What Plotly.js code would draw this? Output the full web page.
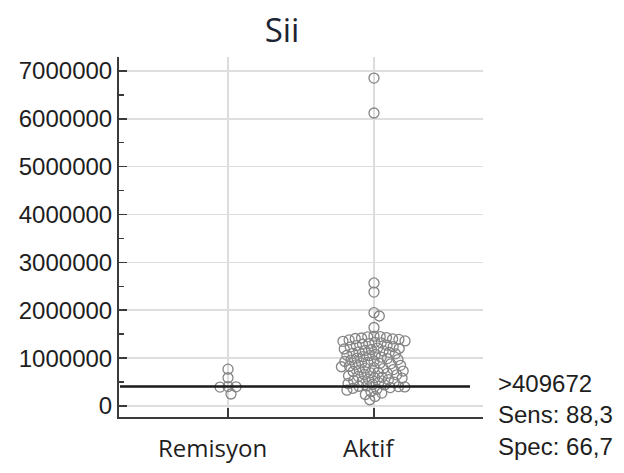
<!DOCTYPE html>
<html>
<head>
<meta charset="utf-8">
<script src="https://cdn.plot.ly/plotly-3.0.1.min.js"></script>
<style>html,body{margin:0;padding:0;background:#fff;}#chart{width:624px;height:473px;}</style>
</head>
<body>
<div id="chart"></div>
<script>
// ---- data ----
const titleText = 'Sii';
const categories = ['Remisyon', 'Aktif'];
const remisyonValues = [770000, 590000, 405000, 400000, 395000, 250000];
const aktifValues = [
  6850000, 6120000, 2570000, 2380000, 1950000, 1880000, 1640000,
  1460000, 1450000, 1445000, 1430000, 1420000, 1410000, 1400000,
  1390000, 1380000, 1360000, 1350000, 1330000, 1320000, 1300000,
  1290000, 1270000, 1260000, 1240000, 1230000, 1210000, 1200000,
  1190000, 1180000, 1160000, 1150000, 1130000, 1120000, 1100000,
  1090000, 1080000, 1060000, 1050000, 1030000, 1020000, 1000000,
  990000, 970000, 960000, 940000, 930000, 910000, 900000,
  890000, 880000, 860000, 850000, 830000, 820000, 800000,
  790000, 780000, 760000, 750000, 730000, 720000, 700000,
  690000, 680000, 660000, 650000, 630000, 620000, 600000,
  590000, 580000, 560000, 550000, 530000, 520000, 500000,
  490000, 470000, 450000, 440000, 420000, 412000,
  405000, 398000, 385000, 370000, 350000, 330000, 300000, 270000, 240000, 200000, 130000
];
const cutoffValue = 409672;
const cutoffLabel = '>409672';
const sensLabel = 'Sens: 88,3';
const specLabel = 'Spec: 66,7';
const yTickValues = [0, 1000000, 2000000, 3000000, 4000000, 5000000, 6000000, 7000000];

// ---- layout geometry ----
const W = 624, H = 473;
const margin = {l: 119, r: 141, t: 57, b: 56, pad: 0};
const xRange = [-0.747, 1.747];
const yRange = [-230000, 7290000];
const plotW = W - margin.l - margin.r;
const plotH = H - margin.t - margin.b;
const pxPerX = plotW / (xRange[1] - xRange[0]);
const pxPerY = plotH / (yRange[1] - yRange[0]);

// simple beeswarm: offsets (in px) so that markers keep at least D apart
function swarm(values, D) {
  const order = values.map((v, i) => i).sort((a, b) => values[b] - values[a]);
  const placed = [];
  const out = new Array(values.length);
  for (const i of order) {
    const y = values[i] * pxPerY;
    const cands = [0];
    for (const p of placed) {
      const dy = Math.abs(p.y - y);
      if (dy < D) {
        const dx = Math.sqrt(D * D - dy * dy);
        cands.push(p.x + dx, p.x - dx);
      }
    }
    cands.sort((a, b) => Math.abs(a) - Math.abs(b));
    let best = 0;
    for (const c of cands) {
      if (placed.every(p => (p.x - c) * (p.x - c) + (p.y - y) * (p.y - y) >= D * D - 1e-6)) { best = c; break; }
    }
    placed.push({x: best, y: y});
    out[i] = best;
  }
  return out;
}

const groups = [remisyonValues, aktifValues];
const swarmDist = [8, 6.3];
const traces = groups.map((vals, gi) => {
  const offs = swarm(vals, swarmDist[gi]);
  return {
    type: 'scatter',
    mode: 'markers',
    x: offs.map(o => gi + o / pxPerX),
    y: vals,
    marker: {symbol: 'circle-open', size: 10, color: '#858585', line: {width: 1.3, color: '#858585'}},
    hoverinfo: 'y',
    showlegend: false,
    cliponaxis: false
  };
});

const textFont = {family: 'Liberation Sans, Arial, sans-serif', size: 24, color: '#1e1e1e'};
const labelCentersPx = [212, 369];

const layout = {
  width: W, height: H,
  margin: margin,
  paper_bgcolor: '#fff', plot_bgcolor: '#fff',
  showlegend: false,
  title: {
    text: titleText,
    font: {family: 'Open Sans, sans-serif', size: 33, color: '#1c2433'},
    xref: 'paper', x: 0.448, xanchor: 'center',
    yref: 'container', y: 1 - 30 / H, yanchor: 'middle'
  },
  xaxis: {
    range: xRange,
    tickmode: 'array', tickvals: [0, 1], ticktext: ['', ''],
    showline: true, linecolor: '#3a3a3a', linewidth: 2,
    ticks: 'inside', ticklen: 9, tickwidth: 2, tickcolor: '#3a3a3a',
    showgrid: true, gridcolor: '#dcdcdc', gridwidth: 1.5,
    zeroline: false,
    fixedrange: true
  },
  yaxis: {
    range: yRange,
    tickmode: 'array', tickvals: yTickValues, ticktext: yTickValues.map(v => String(v)),
    showline: true, linecolor: '#3a3a3a', linewidth: 2,
    ticks: 'inside', ticklen: 8, tickwidth: 1.5, tickcolor: '#3a3a3a',
    minor: {tickmode: 'linear', tick0: 0, dtick: 500000, ticks: 'inside', ticklen: 5, tickwidth: 1.5, tickcolor: '#3a3a3a', showgrid: false},
    showgrid: true, gridcolor: '#dedede', gridwidth: 1.5,
    zeroline: false,
    tickfont: textFont,
    fixedrange: true
  },
  shapes: [{
    type: 'line', xref: 'paper', yref: 'y',
    x0: 1 / plotW, x1: (470 - margin.l) / plotW,
    y0: cutoffValue, y1: cutoffValue,
    line: {color: '#1a1a1a', width: 2.5}
  }],
  annotations: [
    {text: cutoffLabel, yShiftPx: 0},
    {text: sensLabel, yShiftPx: 31},
    {text: specLabel, yShiftPx: 63}
  ].map(a => ({
    text: a.text, showarrow: false,
    xref: 'paper', x: (496 - margin.l) / plotW, xanchor: 'left',
    yref: 'y', y: cutoffValue, yanchor: 'middle', yshift: -a.yShiftPx + 3,
    align: 'left',
    font: textFont
  })).concat(categories.map((c, i) => ({
    text: c, showarrow: false,
    xref: 'paper', x: (labelCentersPx[i] - margin.l) / plotW, xanchor: 'center',
    yref: 'paper', y: 0, yanchor: 'middle', yshift: -30,
    font: {family: 'Open Sans, sans-serif', size: 24, color: '#1e1e1e'}
  })))
};

Plotly.newPlot('chart', traces, layout, {displayModeBar: false, staticPlot: true});
</script>
</body>
</html>
